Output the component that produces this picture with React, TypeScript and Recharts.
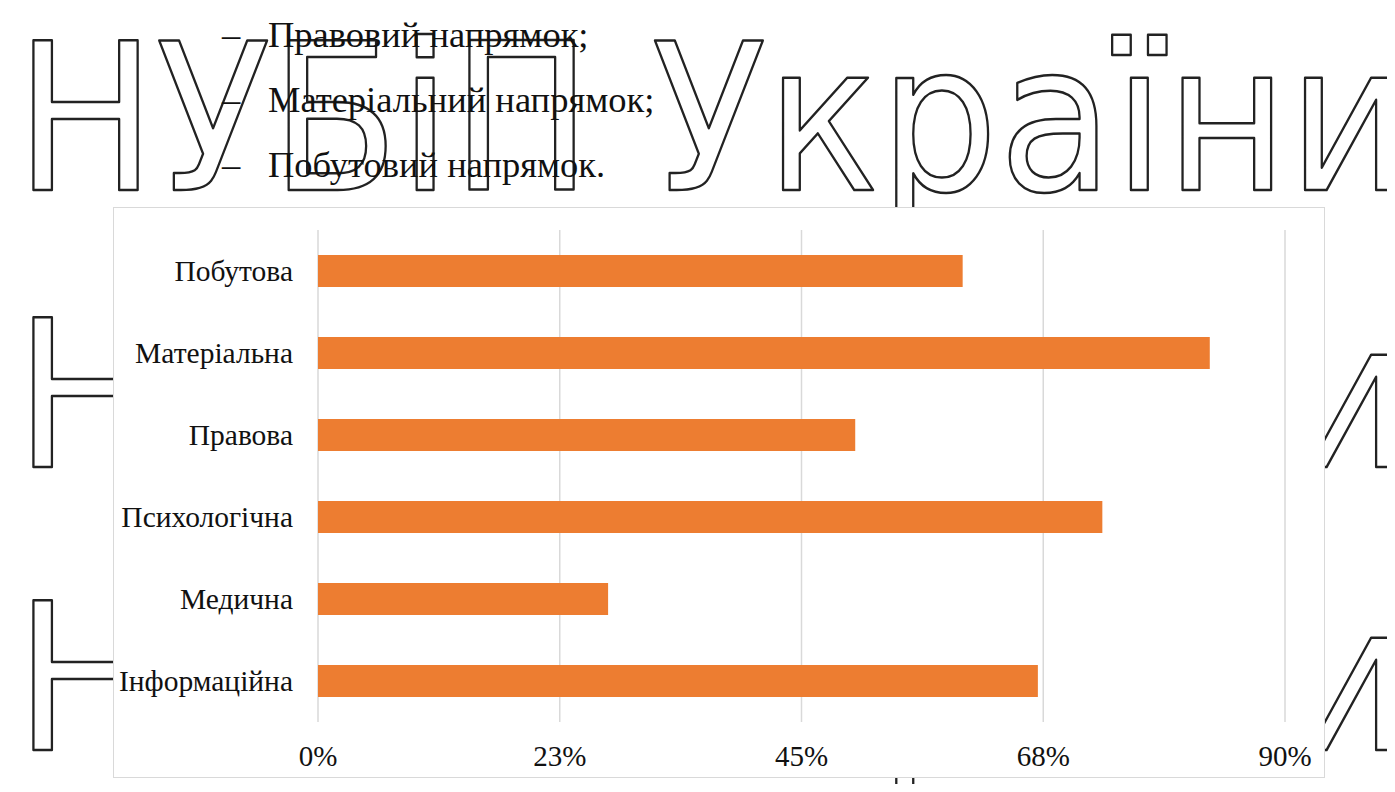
import React from 'react';
import { BarChart, Bar, XAxis, YAxis, CartesianGrid } from 'recharts';

const categories = ['Побутова', 'Матеріальна', 'Правова', 'Психологічна', 'Медична', 'Інформаційна'];
const shares = [60, 83, 50, 73, 27, 67];
const xTicks = [0, 22.5, 45, 67.5, 90];
const bulletItems = ['Правовий напрямок;', 'Матеріальний напрямок;', 'Побутовий напрямок.'];
const watermarkText = 'НУБіП України';

const data = categories.map((name, i) => ({ name, value: shares[i] }));

const serif = '"Liberation Serif", "Times New Roman", serif';

const Watermark: React.FC = () => (
  <svg width={1395} height={792} style={{ position: 'absolute', left: 0, top: 0 }}>
    {[190, 467, 750].map((y) => (
      <text
        key={y}
        x={15}
        y={y}
        textLength={1395}
        lengthAdjust="spacingAndGlyphs"
        fontFamily='"DejaVu Sans", sans-serif'
        fontSize={205}
        fill="none"
        stroke="#222"
        strokeWidth={2.5}
        strokeLinejoin="round"
      >
        {watermarkText}
      </text>
    ))}
  </svg>
);

const App: React.FC = () => {
  return (
    <div style={{ position: 'relative', width: 1395, height: 792, margin: -8, overflow: 'hidden', background: '#fff' }}>
      <Watermark />
      <div style={{ position: 'absolute', left: 222, top: 2, fontFamily: serif, fontSize: 36.5, color: '#111', lineHeight: '65px' }}>
        {bulletItems.map((item) => (
          <div key={item}>
            <span style={{ display: 'inline-block', width: 46 }}>–</span>
            {item}
          </div>
        ))}
      </div>
      <div
        style={{
          position: 'absolute',
          left: 113,
          top: 207,
          width: 1212,
          height: 571,
          background: '#fff',
          border: '1px solid #d9d9d9',
          boxSizing: 'border-box',
        }}
      >
        <BarChart
          width={1210}
          height={569}
          data={data}
          layout="vertical"
          margin={{ top: 22, right: 39, bottom: 0, left: 0 }}
          barSize={32}
        >
          <CartesianGrid horizontal={false} stroke="#d9d9d9" strokeWidth={1.5} />
          <XAxis
            type="number"
            domain={[0, 90]}
            ticks={xTicks}
            tickFormatter={(v: number) => `${Math.round(v)}%`}
            axisLine={false}
            tickLine={false}
            tickSize={0}
            tickMargin={23}
            height={55}
            tick={{ fill: '#111', fontFamily: serif, fontSize: 29 }}
            interval={0}
          />
          <YAxis
            type="category"
            dataKey="name"
            width={204}
            axisLine={false}
            tickLine={false}
            tickSize={0}
            tickMargin={25}
            tick={{ fill: '#111', fontFamily: serif, fontSize: 29.5 }}
            interval={0}
          />
          <Bar dataKey="value" fill="#ED7D31" isAnimationActive={false} />
        </BarChart>
      </div>
    </div>
  );
};

export default App;
